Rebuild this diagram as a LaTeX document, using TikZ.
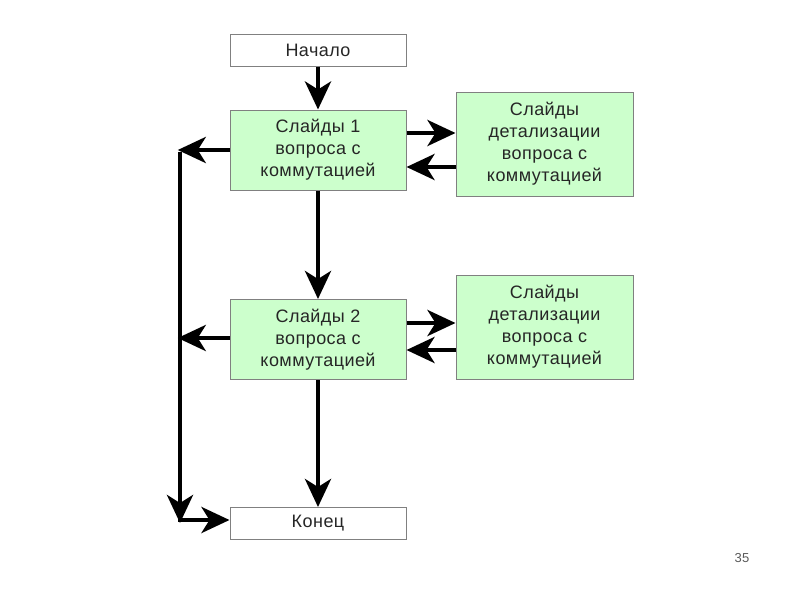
\documentclass[tikz,border=0pt]{standalone}
\usepackage{fontspec}
\setmainfont{Liberation Sans}[LetterSpace=2.5]
\usetikzlibrary{arrows.meta}
\definecolor{boxgreen}{RGB}{204,255,204}
\definecolor{boxborder}{RGB}{128,128,128}
\begin{document}
\begin{tikzpicture}[x=1pt,y=-1pt,
  every node/.style={font=\fontsize{18}{22}\selectfont, text=black!85, align=center, inner sep=0pt},
  plainbox/.style={draw=boxborder, line width=1pt, fill=white, minimum width=176pt, minimum height=32pt},
  greenbox/.style={draw=boxborder, line width=1pt, fill=boxgreen, minimum width=176pt, minimum height=80pt},
  detailbox/.style={draw=boxborder, line width=1pt, fill=boxgreen, minimum width=177pt, minimum height=104pt},
  flow/.style={line width=4.5pt, -{Stealth[length=28pt,width=26pt,inset=8pt]}}]
\useasboundingbox (0,0) rectangle (800,600);
\node[plainbox] (start) at (318,50) {Начало};
\node[greenbox] (s1) at (318,150) {Слайды 1\\вопроса с\\коммутацией};
\node[detailbox] (d1) at (544.5,144) {Слайды\\детализации\\вопроса с\\коммутацией};
\node[greenbox] (s2) at (318,339.5) {Слайды 2\\вопроса с\\коммутацией};
\node[detailbox] (d2) at (544.5,327) {Слайды\\детализации\\вопроса с\\коммутацией};
\node[plainbox] (end) at (318,523.5) {Конец};
\node (num) at (742,558) {\fontsize{13}{15}\selectfont\color{black!65}35};
\coordinate (ltop) at (180,150);
\coordinate (lbot) at (180,520);
\coordinate (l2) at (180,338);
\draw[flow] (start) -- (s1);
\draw[flow] (s1) -- (s2);
\draw[flow] (s2) -- (end);
\draw[flow] (s1.east |- 0,133) -- (d1.west |- 0,133);
\draw[flow] (d1.west |- 0,167) -- (s1.east |- 0,167);
\draw[flow] (s2.east |- 0,323) -- (d2.west |- 0,323);
\draw[flow] (d2.west |- 0,350) -- (s2.east |- 0,350);
\draw[flow] (s1.west |- ltop) -- ([xshift=-2.25pt]ltop);
\draw[flow] (s2.west |- l2) -- ([xshift=-2.25pt]l2);
\draw[flow] ([yshift=-2.25pt]ltop) -- ([yshift=-3pt]lbot);
\draw[flow] ([xshift=-2.25pt]lbot) -- (end.west |- lbot);
\end{tikzpicture}
\end{document}
